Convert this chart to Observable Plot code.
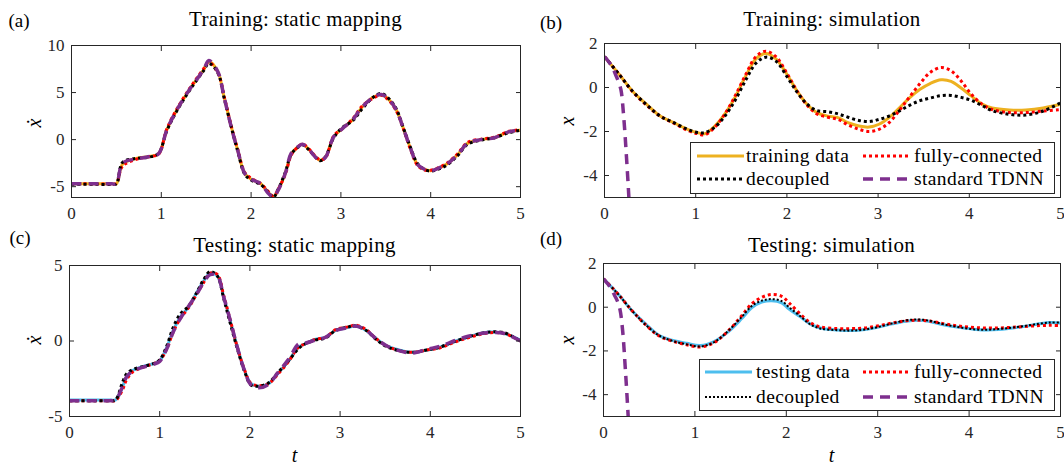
<!DOCTYPE html>
<html><head><meta charset="utf-8">
<script src="https://cdn.jsdelivr.net/npm/d3@7"></script>
<script src="https://cdn.jsdelivr.net/npm/@observablehq/plot@0.6"></script>
<style>
body{margin:0;background:#fff;}
#fig{position:relative;width:1064px;height:465px;overflow:hidden;font-family:"Liberation Serif","DejaVu Serif",serif;color:#000;background:#fff;}
.lab{position:absolute;white-space:nowrap;transform:translate(-50%,-50%);line-height:1;}
.title{font-size:21px;letter-spacing:0.3px;}
.letter{font-size:19px;}
.axl{font-size:20px;font-style:italic;}
.rot{transform:translate(-50%,-50%) rotate(-90deg);}
.legend{position:absolute;background:#fff;border:1px solid #262626;box-sizing:border-box;}
.legend .it{position:absolute;white-space:nowrap;font-size:19.5px;letter-spacing:0.4px;line-height:1;transform:translateY(-50%);}
.legend svg{position:absolute;transform:translateY(-50%);overflow:visible;}
</style></head>
<body><div id="fig"></div>
<script>
// ---------- data ----------
const xTicks = [0, 1, 2, 3, 4, 5];
const yTicksA = [-5, 0, 5, 10];
const yTicksB = [-4, -2, 0, 2];
const yTicksC = [-5, 0, 5];
const yTicksD = [-4, -2, 0, 2];

// (a) Training: static mapping
const tA = [0, 0.25, 0.45, 0.50, 0.57, 0.72, 0.87, 0.97, 1.06, 1.17, 1.32, 1.47, 1.53, 1.63, 1.70, 1.78, 1.85, 1.93, 2.00, 2.11, 2.19, 2.25, 2.30, 2.38, 2.45, 2.53, 2.57, 2.64, 2.72, 2.77, 2.83, 2.92, 3.02, 3.13, 3.24, 3.36, 3.45, 3.54, 3.62, 3.69, 3.77, 3.85, 3.92, 4.00, 4.07, 4.18, 4.30, 4.41, 4.56, 4.71, 4.86, 5.00];
const trainA = [-4.7, -4.7, -4.7, -4.7, -2.6, -2.0, -1.8, -1.5, 1.0, 3.1, 5.4, 7.4, 8.3, 7.2, 4.5, 1.35, -1.1, -3.6, -4.2, -4.7, -5.6, -6.05, -5.4, -3.6, -1.5, -0.7, -0.5, -1.0, -1.85, -2.2, -1.85, 0.3, 1.2, 2.1, 3.5, 4.5, 4.8, 4.2, 3.1, 1.35, -0.8, -2.6, -3.1, -3.3, -3.1, -2.6, -1.6, -0.4, 0.0, 0.2, 0.8, 1.0];
const decA = [-4.75, -4.75, -4.75, -4.7, -2.4, -2.0, -1.85, -1.45, 0.9, 3.0, 5.3, 7.3, 8.1, 7.1, 4.4, 1.3, -1.2, -3.7, -4.3, -4.8, -5.6, -6.1, -5.3, -3.5, -1.5, -0.75, -0.55, -1.05, -1.9, -2.25, -1.8, 0.2, 1.3, 2.0, 3.3, 4.5, 4.9, 4.3, 3.2, 1.4, -0.7, -2.5, -3.1, -3.35, -3.2, -2.7, -1.7, -0.5, -0.05, 0.2, 0.7, 1.0];
const fcA = [-4.65, -4.7, -4.7, -4.65, -2.8, -2.1, -1.8, -1.55, 1.1, 3.2, 5.5, 7.5, 8.2, 7.1, 4.6, 1.4, -1.0, -3.5, -4.1, -4.7, -5.5, -6.0, -5.3, -3.7, -1.6, -0.7, -0.45, -0.95, -1.8, -2.15, -1.9, 0.4, 1.2, 2.2, 3.6, 4.4, 4.7, 4.1, 3.0, 1.3, -0.9, -2.7, -3.2, -3.25, -3.05, -2.5, -1.5, -0.3, 0.05, 0.25, 0.85, 1.05];
const tdnnA = [-4.7, -4.7, -4.7, -4.7, -2.5, -2.05, -1.8, -1.5, 1.0, 3.1, 5.4, 7.4, 8.4, 7.2, 4.5, 1.3, -1.1, -3.6, -4.2, -4.7, -5.7, -6.1, -5.4, -3.6, -1.4, -0.7, -0.5, -1.0, -1.9, -2.2, -1.85, 0.3, 1.2, 2.1, 3.5, 4.5, 4.8, 4.2, 3.1, 1.35, -0.8, -2.6, -3.1, -3.3, -3.1, -2.6, -1.6, -0.4, 0.0, 0.2, 0.8, 1.0];

// (b) Training: simulation
const tB = [0, 0.16, 0.31, 0.46, 0.61, 0.76, 0.91, 1.02, 1.10, 1.21, 1.32, 1.43, 1.55, 1.66, 1.77, 1.88, 2.00, 2.11, 2.22, 2.33, 2.45, 2.56, 2.67, 2.79, 2.90, 3.01, 3.12, 3.24, 3.35, 3.46, 3.57, 3.69, 3.80, 3.91, 4.02, 4.14, 4.25, 4.44, 4.62, 4.81, 5.00];
const trainB = [1.4, 0.6, -0.18, -0.76, -1.3, -1.6, -1.9, -2.05, -2.1, -1.75, -1.2, -0.45, 0.53, 1.3, 1.55, 1.3, 0.6, -0.15, -0.76, -1.14, -1.3, -1.37, -1.6, -1.75, -1.8, -1.67, -1.37, -0.9, -0.45, -0.08, 0.18, 0.35, 0.28, -0.02, -0.38, -0.75, -0.93, -1.02, -1.02, -0.93, -0.76];
const fcB = [1.4, 0.6, -0.2, -0.8, -1.3, -1.62, -1.95, -2.1, -2.15, -1.8, -1.2, -0.4, 0.6, 1.4, 1.65, 1.4, 0.65, -0.15, -0.8, -1.2, -1.35, -1.45, -1.7, -1.9, -2.0, -1.9, -1.6, -1.0, -0.4, 0.18, 0.68, 0.91, 0.76, 0.3, -0.3, -0.76, -1.0, -1.14, -1.14, -1.07, -1.0];
const decB = [1.4, 0.6, -0.18, -0.78, -1.3, -1.6, -1.9, -2.05, -2.05, -1.8, -1.3, -0.6, 0.35, 1.1, 1.38, 1.2, 0.5, -0.2, -0.75, -1.05, -1.1, -1.2, -1.35, -1.5, -1.55, -1.45, -1.3, -1.05, -0.8, -0.6, -0.48, -0.37, -0.36, -0.45, -0.58, -0.82, -1.05, -1.22, -1.25, -1.07, -0.7];
const tP = [0, 0.05, 0.09, 0.12, 0.15, 0.18, 0.21, 0.24, 0.27, 0.3];
const tdnnB = [1.4, 1.15, 0.9, 0.6, 0.3, -0.1, -1.3, -3.1, -5.2, -7.8];

// (c) Testing: static mapping
const tC = [0, 0.25, 0.45, 0.51, 0.59, 0.63, 0.70, 0.81, 0.93, 1.00, 1.08, 1.15, 1.23, 1.32, 1.41, 1.49, 1.56, 1.64, 1.71, 1.79, 1.86, 1.94, 2.01, 2.09, 2.20, 2.31, 2.43, 2.54, 2.61, 2.72, 2.84, 2.95, 3.10, 3.17, 3.29, 3.40, 3.51, 3.66, 3.81, 3.96, 4.11, 4.26, 4.41, 4.56, 4.67, 4.82, 5.00];
const testC = [-3.9, -3.9, -3.9, -3.9, -3.0, -2.4, -1.95, -1.7, -1.5, -1.3, -0.4, 0.7, 1.6, 2.25, 3.2, 4.0, 4.5, 4.3, 2.9, 1.15, -0.4, -1.95, -2.8, -3.0, -2.85, -2.15, -1.3, -0.4, -0.2, 0.1, 0.25, 0.7, 0.9, 1.0, 0.7, 0.15, -0.3, -0.6, -0.75, -0.6, -0.4, -0.05, 0.25, 0.5, 0.6, 0.5, 0.05];
const decC = [-3.95, -3.95, -3.95, -3.9, -2.7, -2.2, -1.9, -1.7, -1.5, -1.25, -0.3, 0.9, 1.8, 2.3, 3.2, 4.1, 4.6, 4.3, 2.8, 1.0, -0.5, -2.0, -2.9, -3.0, -2.8, -2.1, -1.3, -0.5, -0.2, 0.05, 0.2, 0.7, 0.95, 1.0, 0.7, 0.1, -0.35, -0.65, -0.75, -0.6, -0.4, -0.05, 0.25, 0.5, 0.6, 0.55, 0.0];
const fcC = [-3.95, -3.95, -3.95, -3.95, -3.2, -2.6, -2.05, -1.75, -1.5, -1.3, -0.5, 0.6, 1.5, 2.2, 3.1, 3.9, 4.5, 4.4, 3.0, 1.2, -0.4, -1.9, -2.8, -2.95, -2.85, -2.2, -1.35, -0.4, -0.2, 0.1, 0.25, 0.75, 0.95, 1.05, 0.75, 0.15, -0.3, -0.65, -0.75, -0.6, -0.45, -0.1, 0.2, 0.45, 0.55, 0.5, 0.0];
const tdnnC = [-3.95, -3.95, -3.95, -3.9, -3.0, -2.4, -2.0, -1.75, -1.55, -1.35, -0.5, 0.6, 1.5, 2.3, 3.1, 3.9, 4.4, 4.3, 2.9, 1.2, -0.4, -1.95, -2.9, -3.1, -2.9, -2.1, -1.2, -0.2, -0.15, 0.05, 0.25, 0.7, 0.9, 1.0, 0.7, 0.15, -0.3, -0.65, -0.8, -0.55, -0.35, 0.0, 0.3, 0.5, 0.55, 0.5, 0.0];

// (d) Testing: simulation
const tD = [0, 0.16, 0.31, 0.46, 0.61, 0.76, 0.91, 1.06, 1.21, 1.36, 1.51, 1.62, 1.73, 1.84, 1.95, 2.03, 2.15, 2.26, 2.37, 2.56, 2.71, 2.86, 3.01, 3.16, 3.31, 3.45, 3.57, 3.72, 3.87, 4.02, 4.17, 4.32, 4.47, 4.62, 4.77, 4.89, 5.00];
const testD = [1.3, 0.6, -0.15, -0.76, -1.3, -1.52, -1.65, -1.75, -1.57, -1.14, -0.53, -0.03, 0.23, 0.3, 0.2, -0.08, -0.43, -0.76, -0.95, -1.04, -1.07, -1.02, -0.91, -0.76, -0.64, -0.6, -0.65, -0.8, -0.91, -0.99, -1.04, -1.02, -0.95, -0.87, -0.76, -0.7, -0.73];
const decD = [1.3, 0.6, -0.15, -0.8, -1.3, -1.55, -1.7, -1.8, -1.6, -1.1, -0.45, 0.05, 0.3, 0.37, 0.28, 0.0, -0.4, -0.78, -0.97, -1.05, -1.07, -1.02, -0.9, -0.74, -0.6, -0.56, -0.62, -0.78, -0.9, -1.0, -1.03, -1.0, -0.93, -0.85, -0.75, -0.7, -0.7];
const fcD = [1.3, 0.6, -0.15, -0.8, -1.32, -1.56, -1.72, -1.82, -1.62, -1.1, -0.4, 0.15, 0.45, 0.58, 0.5, 0.2, -0.3, -0.7, -0.9, -0.98, -0.98, -0.95, -0.85, -0.72, -0.62, -0.6, -0.63, -0.75, -0.85, -0.92, -0.95, -0.95, -0.92, -0.88, -0.84, -0.83, -0.84];
const tdnnD = [1.3, 1.05, 0.8, 0.55, 0.3, -0.1, -1.1, -2.9, -5.0, -7.6];

// ---------- styles ----------
const C = {train:"#EDB120", test:"#4DBEEE", fc:"#FF0000", dec:"#000000", tdnn:"#7E2F8E"};
const ST = {
  train:{stroke:C.train, strokeWidth:3},
  test:{stroke:C.test, strokeWidth:3},
  fc:{stroke:C.fc, strokeWidth:3, strokeDasharray:"3,3"},
  dec:{stroke:C.dec, strokeWidth:3, strokeDasharray:"3,3"},
  decThin:{stroke:C.dec, strokeWidth:2, strokeDasharray:"2,2"},
  tdnn:{stroke:C.tdnn, strokeWidth:3.5, strokeDasharray:"10,7"}
};
const FONT = '"Liberation Serif","DejaVu Serif",serif';
const fig = document.getElementById("fig");
const rows = (t, v) => t.map((d, i) => ({t: d, v: v[i]}));

function panel(box, yDomain, yTicks, series) {
  const [x0, y0, x1, y1] = box;
  const mL = 50, mR = 12, mT = 10, mB = 32;
  const marks = series.map(([t, v, st]) =>
    Plot.line(rows(t, v), {x: "t", y: "v", curve: "catmull-rom", clip: true, strokeLinecap: "butt", strokeLinejoin: "round", ...st}));
  const blank = () => "";
  marks.push(
    Plot.frame({stroke: "#262626", strokeWidth: 1}),
    Plot.axisX({ticks: xTicks, tickSize: -5, tickPadding: 14, tickFormat: d => String(d), label: null, stroke: "#262626", fill: "#262626"}),
    Plot.axisX({anchor: "top", ticks: xTicks, tickSize: -5, tickFormat: blank, label: null, stroke: "#262626"}),
    Plot.axisY({ticks: yTicks, tickSize: -5, tickPadding: 12, tickFormat: d => String(d), label: null, stroke: "#262626", fill: "#262626"}),
    Plot.axisY({anchor: "right", ticks: yTicks, tickSize: -5, tickFormat: blank, label: null, stroke: "#262626"})
  );
  const svg = Plot.plot({
    width: (x1 - x0) + mL + mR, height: (y1 - y0) + mT + mB,
    marginLeft: mL, marginRight: mR, marginTop: mT, marginBottom: mB,
    x: {domain: [0, 5]}, y: {domain: yDomain},
    style: {fontFamily: FONT, fontSize: "17px", background: "transparent", overflow: "visible", maxWidth: "none"},
    marks
  });
  svg.style.position = "absolute";
  svg.style.left = (x0 - mL) + "px";
  svg.style.top = (y0 - mT) + "px";
  fig.appendChild(svg);
}

panel([71, 45, 520, 197], [-6.15, 10], yTicksA, [
  [tA, trainA, ST.train], [tA, fcA, ST.fc], [tA, decA, ST.dec], [tA, tdnnA, ST.tdnn]]);
panel([604, 43, 1060, 197], [-5, 2], yTicksB, [
  [tB, trainB, ST.train], [tB, fcB, ST.fc], [tB, decB, ST.dec], [tP, tdnnB, ST.tdnn]]);
panel([69, 265, 520, 416], [-5, 5], yTicksC, [
  [tC, testC, ST.test], [tC, fcC, ST.fc], [tC, decC, ST.dec], [tC, tdnnC, ST.tdnn]]);
panel([603, 263, 1060, 416], [-5, 2], yTicksD, [
  [tD, testD, ST.test], [tD, fcD, ST.fc], [tD, decD, ST.decThin], [tP, tdnnD, ST.tdnn]]);

// ---------- text ----------
function label(text, cls, x, y) {
  const d = document.createElement("div");
  d.className = "lab " + cls;
  d.textContent = text;
  d.style.left = x + "px"; d.style.top = y + "px";
  fig.appendChild(d);
}
label("(a)", "letter", 19, 20);
label("(b)", "letter", 551, 22);
label("(c)", "letter", 20, 237);
label("(d)", "letter", 551, 238);
label("Training: static mapping", "title", 295.5, 18.5);
label("Training: simulation", "title", 832, 18.5);
label("Testing: static mapping", "title", 294.5, 245);
label("Testing: simulation", "title", 831.5, 245);
label("ẋ", "axl rot", 34, 123);
label("ẋ", "axl rot", 34, 340);
label("x", "axl rot", 567, 121);
label("x", "axl rot", 567, 340);
label("t", "axl", 294.5, 455);
label("t", "axl", 831.5, 455);

// ---------- legends ----------
function legend(box, items) {
  const [lx, ly, lw, lh] = box;
  const L = document.createElement("div");
  L.className = "legend";
  Object.assign(L.style, {left: lx + "px", top: ly + "px", width: lw + "px", height: lh + "px"});
  for (const [name, st, sx, tx, ry] of items) {
    const s = d3.create("svg").attr("width", 47).attr("height", 6)
      .style("left", (sx - lx) + "px").style("top", (ry - ly) + "px");
    s.append("line").attr("x1", 0).attr("x2", 47).attr("y1", 3).attr("y2", 3)
      .attr("stroke", st.stroke).attr("stroke-width", st.strokeWidth)
      .attr("stroke-dasharray", st.strokeDasharray || null);
    L.appendChild(s.node());
    const t = document.createElement("div");
    t.className = "it"; t.textContent = name;
    t.style.left = (tx - lx) + "px"; t.style.top = (ry - ly) + "px";
    L.appendChild(t);
  }
  fig.appendChild(L);
}
legend([690, 142, 365, 52], [
  ["training data", ST.train, 696, 745, 155],
  ["decoupled", ST.dec, 696, 745, 178],
  ["fully-connected", ST.fc, 862, 913, 155],
  ["standard TDNN", ST.tdnn, 862, 913, 178]]);
legend([699, 359, 356, 52], [
  ["testing data", ST.test, 704, 755, 371],
  ["decoupled", ST.decThin, 704, 755, 396],
  ["fully-connected", ST.fc, 862, 913, 371],
  ["standard TDNN", ST.tdnn, 862, 913, 396]]);
</script>
</body></html>
